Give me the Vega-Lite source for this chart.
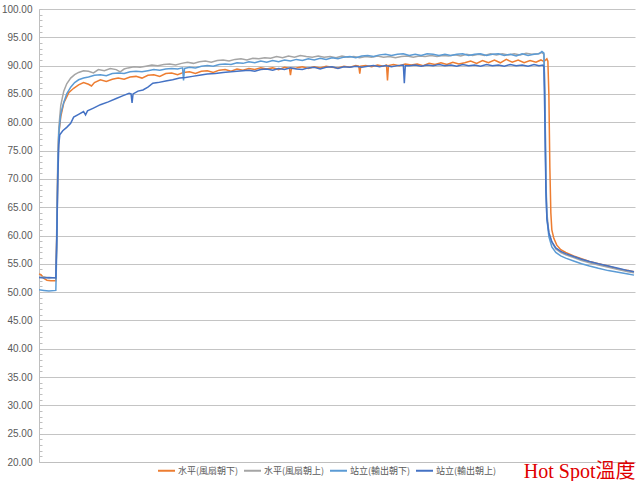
{
"$schema": "https://vega.github.io/schema/vega-lite/v6.json",
"width": 640, "height": 481,
"autosize": {"type": "fit", "contains": "padding"},
"padding": {"top": 4, "left": 1, "right": 3, "bottom": 0},
"background": "white",
"config": {"view": {"stroke": null}},
"datasets": {
"A": [{"t":0,"v":53.2},{"t":2,"v":53.1},{"t":5,"v":52.4},{"t":8,"v":52.1},{"t":12,"v":52.0},{"t":17,"v":52.0},{"t":18,"v":60},{"t":19,"v":72},{"t":20,"v":78},{"t":22,"v":81},{"t":25,"v":83.4},{"t":30,"v":85.2},{"t":35,"v":86.0},{"t":40,"v":86.6},{"t":45,"v":87.0},{"t":50,"v":86.7},{"t":53,"v":86.4},{"t":56,"v":87.0},{"t":62,"v":87.5},{"t":68,"v":87.2},{"t":74,"v":87.6},{"t":80,"v":87.8},{"t":86,"v":87.6},{"t":92,"v":88.0},{"t":98,"v":88.1},{"t":104,"v":87.8},{"t":110,"v":88.3},{"t":116,"v":88.4},{"t":122,"v":88.1},{"t":128,"v":88.6},{"t":134,"v":88.7},{"t":140,"v":88.4},{"t":146,"v":88.8},{"t":152,"v":88.9},{"t":158,"v":88.6},{"t":164,"v":89.0},{"t":170,"v":89.1},{"t":176,"v":88.8},{"t":182,"v":89.2},{"t":188,"v":89.3},{"t":194,"v":89.0},{"t":200,"v":89.4},{"t":206,"v":89.2},{"t":212,"v":89.5},{"t":218,"v":89.3},{"t":224,"v":89.6},{"t":230,"v":89.4},{"t":236,"v":89.6},{"t":242,"v":89.3},{"t":248,"v":89.7},{"t":253,"v":89.5},{"t":254,"v":88.3},{"t":255,"v":89.5},{"t":260,"v":89.6},{"t":266,"v":89.8},{"t":272,"v":89.5},{"t":278,"v":89.8},{"t":284,"v":89.6},{"t":290,"v":89.9},{"t":296,"v":89.7},{"t":302,"v":89.6},{"t":308,"v":89.9},{"t":314,"v":89.7},{"t":320,"v":90.0},{"t":323,"v":89.9},{"t":324,"v":88.6},{"t":325,"v":89.9},{"t":330,"v":90.0},{"t":336,"v":89.8},{"t":342,"v":90.1},{"t":348,"v":89.9},{"t":351,"v":90.1},{"t":352,"v":87.4},{"t":353,"v":90.0},{"t":358,"v":90.2},{"t":364,"v":90.0},{"t":370,"v":90.3},{"t":376,"v":90.1},{"t":382,"v":90.3},{"t":388,"v":90.0},{"t":394,"v":90.4},{"t":400,"v":90.2},{"t":406,"v":90.5},{"t":412,"v":90.2},{"t":418,"v":90.6},{"t":424,"v":90.3},{"t":430,"v":90.5},{"t":436,"v":90.8},{"t":442,"v":90.4},{"t":448,"v":90.9},{"t":454,"v":90.5},{"t":460,"v":91.0},{"t":466,"v":90.5},{"t":472,"v":91.1},{"t":478,"v":90.6},{"t":484,"v":91.0},{"t":490,"v":90.5},{"t":496,"v":90.9},{"t":502,"v":90.6},{"t":507,"v":91.0},{"t":510,"v":90.7},{"t":513,"v":91.2},{"t":514,"v":90.8},{"t":515,"v":85},{"t":516,"v":72},{"t":517,"v":64},{"t":518,"v":61},{"t":520,"v":59.5},{"t":523,"v":58.3},{"t":527,"v":57.5},{"t":532,"v":57.0},{"t":540,"v":56.4},{"t":548,"v":55.9},{"t":556,"v":55.4},{"t":565,"v":55.0},{"t":575,"v":54.6},{"t":585,"v":54.1},{"t":595,"v":53.8},{"t":601,"v":53.6}],
"B": [{"t":0,"v":52.6},{"t":5,"v":52.7},{"t":10,"v":52.5},{"t":17,"v":52.6},{"t":18,"v":62},{"t":19,"v":74},{"t":20,"v":79},{"t":22,"v":83},{"t":25,"v":85.5},{"t":28,"v":86.8},{"t":32,"v":87.8},{"t":36,"v":88.4},{"t":40,"v":88.8},{"t":45,"v":89.1},{"t":50,"v":89.0},{"t":55,"v":88.7},{"t":60,"v":89.3},{"t":66,"v":89.1},{"t":72,"v":89.5},{"t":78,"v":89.3},{"t":82,"v":88.9},{"t":86,"v":89.4},{"t":90,"v":89.6},{"t":96,"v":89.8},{"t":102,"v":89.7},{"t":108,"v":89.9},{"t":114,"v":90.1},{"t":120,"v":90.0},{"t":126,"v":90.2},{"t":132,"v":90.3},{"t":138,"v":90.1},{"t":144,"v":90.4},{"t":150,"v":90.6},{"t":156,"v":90.4},{"t":162,"v":90.7},{"t":168,"v":90.8},{"t":174,"v":90.6},{"t":180,"v":90.9},{"t":186,"v":91.0},{"t":192,"v":90.8},{"t":198,"v":91.1},{"t":204,"v":91.2},{"t":210,"v":91.0},{"t":216,"v":91.3},{"t":222,"v":91.2},{"t":228,"v":91.4},{"t":234,"v":91.3},{"t":240,"v":91.6},{"t":246,"v":91.4},{"t":252,"v":91.7},{"t":258,"v":91.5},{"t":264,"v":91.8},{"t":270,"v":91.6},{"t":276,"v":91.5},{"t":282,"v":91.7},{"t":288,"v":91.5},{"t":294,"v":91.6},{"t":300,"v":91.4},{"t":306,"v":91.7},{"t":312,"v":91.5},{"t":318,"v":91.6},{"t":324,"v":91.4},{"t":330,"v":91.6},{"t":336,"v":91.5},{"t":342,"v":91.7},{"t":348,"v":91.5},{"t":354,"v":91.6},{"t":360,"v":91.4},{"t":366,"v":91.6},{"t":372,"v":91.7},{"t":378,"v":91.5},{"t":384,"v":91.7},{"t":390,"v":91.6},{"t":396,"v":91.8},{"t":402,"v":91.6},{"t":408,"v":91.8},{"t":414,"v":91.7},{"t":420,"v":91.9},{"t":426,"v":91.7},{"t":432,"v":92.0},{"t":438,"v":91.8},{"t":444,"v":92.0},{"t":450,"v":91.8},{"t":456,"v":92.1},{"t":462,"v":91.9},{"t":468,"v":92.1},{"t":474,"v":91.9},{"t":480,"v":92.1},{"t":486,"v":91.9},{"t":492,"v":92.2},{"t":498,"v":92.0},{"t":504,"v":92.1},{"t":508,"v":92.3},{"t":510,"v":92.0},{"t":511,"v":85},{"t":512,"v":70},{"t":513,"v":64},{"t":515,"v":60.5},{"t":518,"v":58.8},{"t":522,"v":57.6},{"t":527,"v":57.0},{"t":532,"v":56.6},{"t":540,"v":56.1},{"t":548,"v":55.6},{"t":556,"v":55.2},{"t":565,"v":54.8},{"t":575,"v":54.4},{"t":585,"v":54.0},{"t":595,"v":53.6},{"t":601,"v":53.4}],
"C": [{"t":0,"v":50.4},{"t":5,"v":50.3},{"t":10,"v":50.2},{"t":17,"v":50.3},{"t":18,"v":58},{"t":19,"v":72},{"t":20,"v":78},{"t":22,"v":81.5},{"t":25,"v":83.5},{"t":28,"v":85.0},{"t":32,"v":86.2},{"t":36,"v":87.0},{"t":40,"v":87.5},{"t":45,"v":87.8},{"t":50,"v":88.0},{"t":56,"v":88.3},{"t":62,"v":88.4},{"t":68,"v":88.2},{"t":74,"v":88.6},{"t":80,"v":88.7},{"t":86,"v":88.6},{"t":92,"v":88.9},{"t":98,"v":89.0},{"t":104,"v":88.9},{"t":110,"v":89.1},{"t":116,"v":89.3},{"t":122,"v":89.2},{"t":128,"v":89.4},{"t":134,"v":89.5},{"t":140,"v":89.4},{"t":145,"v":89.6},{"t":146,"v":87.4},{"t":147,"v":89.5},{"t":152,"v":89.7},{"t":158,"v":89.6},{"t":164,"v":89.9},{"t":170,"v":90.0},{"t":176,"v":89.9},{"t":182,"v":90.2},{"t":188,"v":90.3},{"t":194,"v":90.2},{"t":200,"v":90.5},{"t":206,"v":90.4},{"t":212,"v":90.7},{"t":218,"v":90.5},{"t":224,"v":90.8},{"t":230,"v":90.6},{"t":236,"v":90.9},{"t":242,"v":90.7},{"t":248,"v":91.0},{"t":254,"v":90.8},{"t":260,"v":91.1},{"t":266,"v":90.9},{"t":272,"v":91.2},{"t":278,"v":91.0},{"t":284,"v":91.3},{"t":290,"v":91.1},{"t":296,"v":91.4},{"t":302,"v":91.2},{"t":308,"v":91.5},{"t":314,"v":91.6},{"t":320,"v":91.4},{"t":326,"v":91.7},{"t":332,"v":91.8},{"t":338,"v":91.6},{"t":344,"v":91.9},{"t":350,"v":92.0},{"t":356,"v":91.8},{"t":362,"v":92.0},{"t":368,"v":92.1},{"t":374,"v":91.8},{"t":380,"v":92.0},{"t":386,"v":91.8},{"t":392,"v":92.1},{"t":398,"v":92.0},{"t":404,"v":91.8},{"t":410,"v":92.0},{"t":416,"v":91.8},{"t":422,"v":92.0},{"t":428,"v":92.1},{"t":434,"v":91.8},{"t":440,"v":92.0},{"t":446,"v":92.1},{"t":452,"v":91.8},{"t":458,"v":92.0},{"t":464,"v":92.1},{"t":470,"v":91.8},{"t":476,"v":92.0},{"t":482,"v":91.7},{"t":488,"v":92.1},{"t":494,"v":91.8},{"t":500,"v":92.0},{"t":505,"v":92.1},{"t":508,"v":92.5},{"t":510,"v":92.2},{"t":511,"v":84},{"t":512,"v":69},{"t":513,"v":63},{"t":515,"v":59.8},{"t":518,"v":58.0},{"t":522,"v":57.0},{"t":527,"v":56.4},{"t":532,"v":56.0},{"t":540,"v":55.5},{"t":548,"v":55.0},{"t":556,"v":54.6},{"t":565,"v":54.2},{"t":575,"v":53.8},{"t":585,"v":53.5},{"t":595,"v":53.2},{"t":601,"v":53.0}],
"D": [{"t":0,"v":52.6},{"t":5,"v":52.5},{"t":10,"v":52.6},{"t":17,"v":52.5},{"t":18,"v":60},{"t":19,"v":70},{"t":20,"v":76},{"t":21,"v":77.8},{"t":24,"v":78.5},{"t":28,"v":79.1},{"t":32,"v":79.8},{"t":35,"v":80.9},{"t":40,"v":81.4},{"t":45,"v":81.9},{"t":47,"v":81.3},{"t":49,"v":82.0},{"t":55,"v":82.5},{"t":62,"v":83.1},{"t":70,"v":83.6},{"t":78,"v":84.2},{"t":85,"v":84.7},{"t":91,"v":85.1},{"t":93,"v":85.0},{"t":94,"v":83.4},{"t":95,"v":85.0},{"t":100,"v":85.5},{"t":105,"v":85.7},{"t":110,"v":86.2},{"t":115,"v":86.9},{"t":120,"v":87.0},{"t":128,"v":87.3},{"t":135,"v":87.5},{"t":142,"v":87.8},{"t":148,"v":87.9},{"t":155,"v":88.1},{"t":162,"v":88.3},{"t":170,"v":88.5},{"t":178,"v":88.6},{"t":186,"v":88.8},{"t":194,"v":88.9},{"t":200,"v":89.0},{"t":206,"v":89.1},{"t":212,"v":89.2},{"t":218,"v":89.0},{"t":224,"v":89.3},{"t":230,"v":89.4},{"t":236,"v":89.2},{"t":242,"v":89.5},{"t":248,"v":89.3},{"t":254,"v":89.6},{"t":260,"v":89.4},{"t":266,"v":89.3},{"t":272,"v":89.6},{"t":278,"v":89.7},{"t":284,"v":89.4},{"t":290,"v":89.7},{"t":296,"v":89.8},{"t":302,"v":89.5},{"t":308,"v":89.8},{"t":314,"v":89.7},{"t":320,"v":89.9},{"t":326,"v":89.7},{"t":332,"v":89.9},{"t":338,"v":90.0},{"t":344,"v":89.8},{"t":350,"v":90.0},{"t":356,"v":89.8},{"t":362,"v":90.0},{"t":368,"v":90.1},{"t":369,"v":86.9},{"t":370,"v":90.0},{"t":374,"v":90.0},{"t":380,"v":90.1},{"t":386,"v":89.9},{"t":392,"v":90.1},{"t":398,"v":90.0},{"t":404,"v":90.2},{"t":410,"v":90.0},{"t":416,"v":90.1},{"t":422,"v":89.9},{"t":428,"v":90.2},{"t":434,"v":90.0},{"t":440,"v":90.1},{"t":446,"v":89.9},{"t":452,"v":90.2},{"t":458,"v":90.0},{"t":464,"v":90.1},{"t":470,"v":89.9},{"t":476,"v":90.2},{"t":482,"v":90.0},{"t":488,"v":90.1},{"t":494,"v":89.9},{"t":500,"v":90.2},{"t":505,"v":90.0},{"t":509,"v":90.1},{"t":510,"v":89.8},{"t":511,"v":80},{"t":512,"v":68},{"t":513,"v":63},{"t":515,"v":60.5},{"t":518,"v":58.9},{"t":522,"v":57.8},{"t":527,"v":57.2},{"t":532,"v":56.8},{"t":540,"v":56.3},{"t":548,"v":55.8},{"t":556,"v":55.4},{"t":565,"v":55.0},{"t":575,"v":54.6},{"t":585,"v":54.2},{"t":595,"v":53.8},{"t":601,"v":53.6}]
},
"encoding": {
  "x": {"field": "t", "type": "quantitative", "scale": {"domain": [0, 602], "nice": false, "zero": false},
        "axis": {"labels": false, "ticks": false, "grid": false, "domainColor": "#bfbfbf", "title": "Hot Spot溫度", "titleAnchor": "end", "titleColor": "#e00000", "titleFont": "'Liberation Serif', 'Noto Sans CJK TC'", "titleFontSize": 20, "titleFontWeight": "normal", "titlePadding": -1}},
  "y": {"field": "v", "type": "quantitative", "scale": {"domain": [20, 100], "nice": false, "zero": false},
        "axis": {"title": null, "values": [20,21,22,23,24,25,26,27,28,29,30,31,32,33,34,35,36,37,38,39,40,41,42,43,44,45,46,47,48,49,50,51,52,53,54,55,56,57,58,59,60,61,62,63,64,65,66,67,68,69,70,71,72,73,74,75,76,77,78,79,80,81,82,83,84,85,86,87,88,89,90,91,92,93,94,95,96,97,98,99,100],
                 "labelExpr": "datum.value % 5 === 0 ? format(datum.value, '.2f') : ''", "labelOverlap": false, "labelFlush": false,
                 "labelFont": "'Liberation Sans Narrow', 'Liberation Sans'", "labelFontSize": 10, "labelColor": "#595959", "labelPadding": 10,
                 "tickSize": -3, "tickColor": "#bfbfbf", "domainColor": "#bfbfbf",
                 "gridColor": "#c4c4c4", "gridOpacity": {"condition": {"test": "datum.value % 5 === 0", "value": 1}, "value": 0}}}
},
"layer": [
  {"data": {"name": "A"}, "mark": {"type": "line", "strokeWidth": 1.5}, "encoding": {"color": {"datum": "水平(風扇朝下)"}}},
  {"data": {"name": "B"}, "mark": {"type": "line", "strokeWidth": 1.5}, "encoding": {"color": {"datum": "水平(風扇朝上)"}}},
  {"data": {"name": "C"}, "mark": {"type": "line", "strokeWidth": 1.5}, "encoding": {"color": {"datum": "站立(輸出朝下)"}}},
  {"data": {"name": "D"}, "mark": {"type": "line", "strokeWidth": 1.5}, "encoding": {"color": {"datum": "站立(輸出朝上)", "type": "nominal",
     "scale": {"domain": ["水平(風扇朝下)", "水平(風扇朝上)", "站立(輸出朝下)", "站立(輸出朝上)"], "range": ["#ED7D31", "#A5A5A5", "#5B9BD5", "#4472C4"]},
     "legend": {"orient": "none", "legendX": 118, "legendY": 452, "direction": "horizontal", "title": null, "symbolType": "stroke", "symbolSize": 289, "symbolStrokeWidth": 2,
                "labelFont": "Noto Sans CJK TC", "labelFontSize": 9, "labelColor": "#595959", "columnPadding": 1, "labelOffset": 2}}}}
]
}
